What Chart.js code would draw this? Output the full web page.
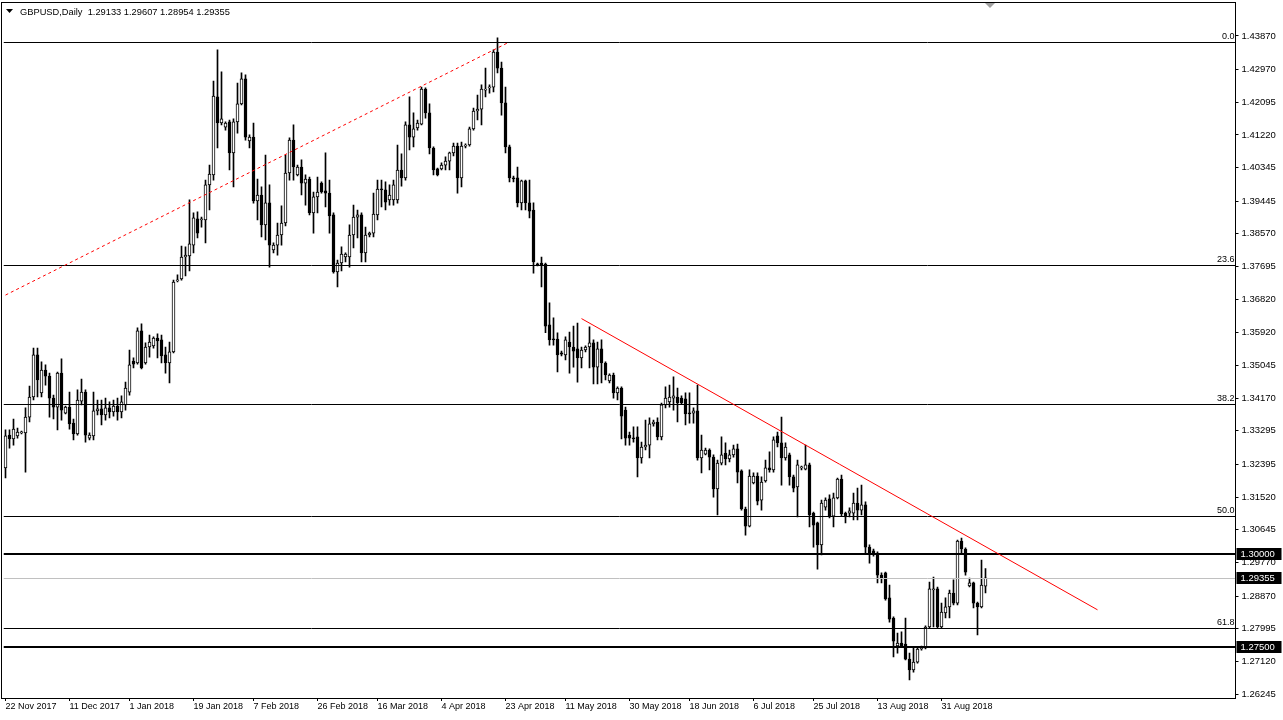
<!DOCTYPE html>
<html>
<head>
<meta charset="utf-8">
<title>GBPUSD,Daily</title>
<script src="https://cdn.jsdelivr.net/npm/chart.js@4.4.1/dist/chart.umd.min.js"></script>
<style>
  html, body { margin: 0; padding: 0; background: #fff; }
  canvas { display: block; }
</style>
</head>
<body>
<canvas id="gbpusdChart" width="1283" height="720"></canvas>
<script>
const symbol = 'GBPUSD';
const period = 'Daily';

// daily candles, oldest first
const opens = [
  1.3230,1.3318,1.3308,1.3316,1.3324,1.3324,1.3366,1.3420,1.3533,1.3431,
  1.3492,1.3476,1.3417,1.3393,1.3484,1.3377,1.3393,1.3350,1.3321,1.3409,
  1.3433,1.3310,1.3316,1.3383,1.3388,1.3372,1.3391,1.3380,1.3396,1.3380,
  1.3399,1.3433,1.3516,1.3511,1.3597,1.3511,1.3554,1.3557,1.3578,1.3573,
  1.3533,1.3511,1.3541,1.3731,1.3736,1.3795,1.3798,1.3827,1.3897,1.3894,
  1.3894,1.3988,1.4015,1.4224,1.4154,1.4143,1.4157,1.4074,1.4157,1.4205,
  1.4272,1.4106,1.4116,1.3945,1.3961,1.3881,1.3940,1.3814,1.3827,1.3854,
  1.3886,1.4020,1.4108,1.4015,1.4036,1.3993,1.4004,1.3913,1.3956,1.3993,
  1.3972,1.3966,1.3908,1.3755,1.3779,1.3795,1.3795,1.3854,1.3902,1.3908,
  1.3806,1.3854,1.3859,1.3908,1.3977,1.3975,1.3948,1.3948,1.3948,1.4028,
  1.4007,1.4149,1.4116,1.4141,1.4151,1.4245,1.4181,1.4087,1.4031,1.4031,
  1.4041,1.4052,1.4074,1.4092,1.4007,1.4092,1.4095,1.4138,1.4186,1.4191,
  1.4242,1.4248,1.4250,1.4344,1.4301,1.4208,1.4090,1.4007,1.4007,1.3940,
  1.3999,1.3940,1.3921,1.3776,1.3779,1.3776,1.3613,1.3575,1.3575,1.3538,
  1.3533,1.3567,1.3554,1.3549,1.3525,1.3546,1.3554,1.3565,1.3500,1.3549,
  1.3511,1.3463,1.3479,1.3431,1.3444,1.3385,1.3318,1.3310,1.3313,1.3257,
  1.3286,1.3291,1.3348,1.3353,1.3313,1.3399,1.3407,1.3417,1.3420,1.3417,
  1.3415,1.3377,1.3377,1.3383,1.3257,1.3267,1.3278,1.3259,1.3174,1.3243,
  1.3270,1.3254,1.3265,1.3281,1.3222,1.3120,1.3074,1.3190,1.3208,1.3144,
  1.3195,1.3230,1.3225,1.3316,1.3297,1.3257,1.3265,1.3206,1.3179,1.3230,
  1.3227,1.3238,1.3109,1.3083,1.3024,1.3125,1.3147,1.3101,1.3150,1.3200,
  1.3109,1.3109,1.3109,1.3136,1.3117,1.3131,1.3018,1.3008,1.3002,1.2943,
  1.2949,1.2882,1.2828,1.2753,1.2761,1.2758,1.2718,1.2689,1.2710,1.2745,
  1.2748,1.2804,1.2903,1.2906,1.2804,1.2842,1.2858,1.2895,1.2868,1.3034,
  1.3013,1.2914,1.2922,1.2868,1.2858,1.29133
];
const highs = [
  1.3332,1.3332,1.3361,1.3337,1.3329,1.3391,1.3449,1.3551,1.3551,1.3514,
  1.3506,1.3484,1.3425,1.3487,1.3522,1.3396,1.3433,1.3361,1.3439,1.3468,
  1.3439,1.3324,1.3433,1.3412,1.3412,1.3417,1.3407,1.3412,1.3417,1.3423,
  1.3460,1.3546,1.3525,1.3605,1.3616,1.3565,1.3586,1.3581,1.3589,1.3586,
  1.3554,1.3567,1.3733,1.3747,1.3824,1.3822,1.3948,1.3913,1.3916,1.3902,
  1.4001,1.4041,1.4266,1.4350,1.4291,1.4157,1.4162,1.4165,1.4261,1.4288,
  1.4283,1.4122,1.4154,1.4004,1.3983,1.4068,1.3988,1.3833,1.3886,1.3932,
  1.4068,1.4114,1.4149,1.4041,1.4055,1.4015,1.4009,1.3969,1.4009,1.3996,
  1.4074,1.4001,1.3913,1.3787,1.3822,1.3806,1.3881,1.3934,1.3921,1.3913,
  1.3875,1.3862,1.3966,1.4001,1.4001,1.3996,1.3988,1.4001,1.4095,1.4071,
  1.4157,1.4224,1.4181,1.4162,1.4250,1.4248,1.4205,1.4090,1.4033,1.4047,
  1.4063,1.4076,1.4100,1.4100,1.4103,1.4098,1.4143,1.4194,1.4229,1.4256,
  1.4301,1.4256,1.4350,1.4382,1.4317,1.4250,1.4095,1.4012,1.4036,1.4001,
  1.4001,1.4001,1.3940,1.3779,1.3795,1.3779,1.3672,1.3632,1.3592,1.3543,
  1.3581,1.3594,1.3610,1.3618,1.3554,1.3557,1.3608,1.3573,1.3567,1.3573,
  1.3514,1.3482,1.3484,1.3447,1.3447,1.3393,1.3326,1.3340,1.3340,1.3299,
  1.3358,1.3364,1.3358,1.3364,1.3404,1.3447,1.3452,1.3474,1.3444,1.3423,
  1.3431,1.3431,1.3391,1.3452,1.3318,1.3283,1.3281,1.3265,1.3251,1.3313,
  1.3297,1.3278,1.3291,1.3294,1.3225,1.3125,1.3225,1.3217,1.3217,1.3206,
  1.3251,1.3273,1.3313,1.3326,1.3366,1.3297,1.3270,1.3211,1.3251,1.3235,
  1.3291,1.3243,1.3112,1.3085,1.3144,1.3150,1.3158,1.3163,1.3203,1.3211,
  1.3112,1.3123,1.3163,1.3176,1.3184,1.3139,1.3024,1.3013,1.3005,1.2949,
  1.2951,1.2916,1.2831,1.2788,1.2791,1.2828,1.2734,1.2748,1.2750,1.2753,
  1.2807,1.2924,1.2938,1.2911,1.2868,1.2882,1.2903,1.2930,1.3037,1.3042,
  1.3016,1.2935,1.2924,1.2871,1.2983,1.29607
];
const lows = [
  1.3203,1.3283,1.3291,1.3310,1.3321,1.3219,1.3353,1.3412,1.3420,1.3420,
  1.3452,1.3366,1.3361,1.3332,1.3358,1.3375,1.3334,1.3305,1.3318,1.3399,
  1.3299,1.3305,1.3305,1.3372,1.3345,1.3358,1.3364,1.3369,1.3358,1.3364,
  1.3385,1.3425,1.3498,1.3508,1.3495,1.3508,1.3527,1.3551,1.3525,1.3511,
  1.3484,1.3458,1.3538,1.3728,1.3733,1.3744,1.3758,1.3806,1.3846,1.3875,
  1.3833,1.3921,1.4001,1.4087,1.4149,1.4135,1.4028,1.3983,1.4127,1.4202,
  1.4108,1.4087,1.3939,1.3894,1.3849,1.3841,1.3768,1.3806,1.3800,1.3827,
  1.3878,1.4001,1.4001,1.4012,1.3961,1.3934,1.3908,1.3859,1.3913,1.3966,
  1.3929,1.3859,1.3752,1.3715,1.3758,1.3782,1.3768,1.3819,1.3846,1.3782,
  1.3782,1.3849,1.3849,1.3894,1.3929,1.3921,1.3934,1.3934,1.3939,1.3985,
  1.4001,1.4082,1.4090,1.4135,1.4149,1.4167,1.4071,1.4015,1.4012,1.4028,
  1.4028,1.4028,1.4066,1.3966,1.3983,1.4087,1.4092,1.4135,1.4162,1.4149,
  1.4224,1.4234,1.4237,1.4288,1.4175,1.4074,1.3996,1.3996,1.3929,1.3921,
  1.3921,1.3900,1.3752,1.3771,1.3715,1.3592,1.3559,1.3559,1.3487,1.3530,
  1.3519,1.3484,1.3500,1.3460,1.3498,1.3541,1.3498,1.3455,1.3455,1.3458,
  1.3466,1.3458,1.3417,1.3412,1.3308,1.3291,1.3291,1.3299,1.3206,1.3243,
  1.3278,1.3257,1.3342,1.3305,1.3305,1.3391,1.3393,1.3385,1.3353,1.3401,
  1.3345,1.3350,1.3350,1.3251,1.3217,1.3265,1.3225,1.3152,1.3104,1.3238,
  1.3238,1.3246,1.3259,1.3190,1.3117,1.3050,1.3072,1.3187,1.3131,1.3117,
  1.3192,1.3219,1.3219,1.3286,1.3184,1.3251,1.3184,1.3166,1.3099,1.3225,
  1.3225,1.3072,1.3018,1.2959,1.2997,1.3117,1.3096,1.3072,1.3147,1.3101,
  1.3083,1.3099,1.3091,1.3091,1.3104,1.3002,1.2975,1.2994,1.2922,1.2922,
  1.2876,1.2817,1.2724,1.2734,1.2750,1.2716,1.2662,1.2683,1.2707,1.2742,
  1.2745,1.2801,1.2804,1.2801,1.2801,1.2828,1.2828,1.2863,1.2863,1.3002,
  1.2943,1.2911,1.2855,1.2783,1.2855,1.28954
];
const closes = [
  1.3316,1.3308,1.3334,1.3326,1.3326,1.3366,1.3420,1.3533,1.3466,1.3492,
  1.3476,1.3417,1.3393,1.3484,1.3385,1.3393,1.3348,1.3321,1.3412,1.3433,
  1.3318,1.3318,1.3383,1.3388,1.3372,1.3391,1.3380,1.3396,1.3380,1.3407,
  1.3444,1.3506,1.3508,1.3597,1.3498,1.3554,1.3567,1.3578,1.3570,1.3530,
  1.3511,1.3541,1.3728,1.3733,1.3795,1.3800,1.3830,1.3900,1.3859,1.3897,
  1.3988,1.4017,1.4226,1.4154,1.4165,1.4154,1.4074,1.4157,1.4205,1.4272,
  1.4116,1.4116,1.3945,1.3961,1.3881,1.3940,1.3827,1.3827,1.3854,1.3886,
  1.4020,1.4108,1.4036,1.4036,1.3993,1.4004,1.3913,1.3956,1.3969,1.3969,
  1.3966,1.3905,1.3755,1.3779,1.3803,1.3803,1.3854,1.3902,1.3908,1.3806,
  1.3854,1.3859,1.3910,1.3977,1.3975,1.3942,1.3961,1.3988,1.4028,1.4007,
  1.4149,1.4116,1.4138,1.4154,1.4245,1.4181,1.4087,1.4028,1.4015,1.4041,
  1.4052,1.4074,1.4092,1.4007,1.4092,1.4095,1.4138,1.4186,1.4191,1.4245,
  1.4245,1.4250,1.4344,1.4301,1.4208,1.4090,1.4007,1.4004,1.3940,1.3999,
  1.3940,1.3918,1.3782,1.3774,1.3774,1.3610,1.3573,1.3573,1.3533,1.3535,
  1.3573,1.3554,1.3543,1.3525,1.3546,1.3554,1.3565,1.3500,1.3549,1.3511,
  1.3479,1.3479,1.3431,1.3444,1.3369,1.3310,1.3310,1.3308,1.3257,1.3286,
  1.3291,1.3348,1.3353,1.3313,1.3399,1.3417,1.3420,1.3423,1.3404,1.3404,
  1.3375,1.3375,1.3383,1.3257,1.3278,1.3278,1.3259,1.3174,1.3243,1.3265,
  1.3254,1.3265,1.3281,1.3219,1.3120,1.3074,1.3208,1.3208,1.3141,1.3192,
  1.3230,1.3225,1.3305,1.3297,1.3257,1.3286,1.3206,1.3176,1.3238,1.3233,
  1.3238,1.3104,1.3077,1.3024,1.3136,1.3144,1.3101,1.3150,1.3200,1.3107,
  1.3099,1.3115,1.3136,1.3117,1.3131,1.3018,1.3002,1.3002,1.2943,1.2935,
  1.2879,1.2825,1.2766,1.2761,1.2753,1.2718,1.2689,1.2710,1.2745,1.2748,
  1.2804,1.2906,1.2906,1.2804,1.2844,1.2858,1.2895,1.2868,1.3034,1.3013,
  1.2951,1.2922,1.2868,1.2858,1.2916,1.29355
];

// axis labels
const dateTicks = ['22 Nov 2017', '11 Dec 2017', '1 Jan 2018', '19 Jan 2018', '7 Feb 2018',
  '26 Feb 2018', '16 Mar 2018', '4 Apr 2018', '23 Apr 2018', '11 May 2018', '30 May 2018',
  '18 Jun 2018', '6 Jul 2018', '25 Jul 2018', '13 Aug 2018', '31 Aug 2018'];
const yTicks = [1.43870, 1.42970, 1.42095, 1.41220, 1.40345, 1.39445, 1.38570, 1.37695,
  1.36820, 1.35920, 1.35045, 1.34170, 1.33295, 1.32395, 1.31520, 1.30645, 1.29770,
  1.28870, 1.27995, 1.27120, 1.26245];

// drawn objects
const fibNames = ['0.0', '23.6', '38.2', '50.0', '61.8'];
const fibValues = [1.4371, 1.3774, 1.3401, 1.3101, 1.2801];
const levelValues = [1.30000, 1.27500];
const dotTrend = [[0, 1.3693], [126, 1.4371]];
const solidTrend = [[144, 1.3630], [273, 1.2850]];

const slots = 308;          // bars that fit across the window (incl. right shift)
const labelEvery = 15.57;   // bars between time labels
const labels = Array.from({ length: slots }, (_, i) => i);
const tickIdx = dateTicks.map((_, j) => Math.round(j * labelEvery));

const bodies = opens.map((o, i) => [o, closes[i]]);
const wicks = lows.map((l, i) => [l, highs[i]]);
const bodyColors = opens.map((o, i) => (closes[i] > o ? '#ffffff' : '#000000'));

const uiFont = '"Liberation Sans", Arial, sans-serif';
const xFont = { family: uiFont, size: 9 };
const yFont = { family: uiFont, size: 9.5 };

const last = opens.length - 1;
const bid = closes[last];

const overlay = {
  id: 'overlay',
  afterDatasetsDraw(chart) {
    const { ctx, chartArea: a, scales: { x, y } } = chart;
    ctx.save();
    ctx.beginPath();
    ctx.rect(a.left, a.top, a.width, a.height);
    ctx.clip();

    // bid line
    ctx.strokeStyle = '#c0c0c0';
    ctx.lineWidth = 1;
    let py = Math.round(y.getPixelForValue(bid)) + 0.5;
    ctx.beginPath(); ctx.moveTo(a.left, py); ctx.lineTo(a.right, py); ctx.stroke();

    // fibo levels
    ctx.strokeStyle = '#000';
    ctx.fillStyle = '#000';
    ctx.font = '9px ' + uiFont;
    ctx.textAlign = 'right';
    ctx.textBaseline = 'bottom';
    fibValues.forEach((v, i) => {
      py = Math.round(y.getPixelForValue(v)) + 0.5;
      ctx.beginPath(); ctx.moveTo(a.left, py); ctx.lineTo(a.right, py); ctx.stroke();
      ctx.fillText(fibNames[i], a.right - 1, py - 1);
    });

    // round number levels
    ctx.lineWidth = 2;
    levelValues.forEach(v => {
      py = Math.round(y.getPixelForValue(v));
      ctx.beginPath(); ctx.moveTo(a.left, py); ctx.lineTo(a.right, py); ctx.stroke();
    });

    // trend lines
    ctx.strokeStyle = '#ff0000';
    ctx.lineWidth = 1;
    ctx.setLineDash([3, 3]);
    ctx.beginPath();
    ctx.moveTo(x.getPixelForValue(dotTrend[0][0]), y.getPixelForValue(dotTrend[0][1]));
    ctx.lineTo(x.getPixelForValue(dotTrend[1][0]), y.getPixelForValue(dotTrend[1][1]));
    ctx.stroke();
    ctx.setLineDash([]);
    ctx.beginPath();
    ctx.moveTo(x.getPixelForValue(solidTrend[0][0]), y.getPixelForValue(solidTrend[0][1]));
    ctx.lineTo(x.getPixelForValue(solidTrend[1][0]), y.getPixelForValue(solidTrend[1][1]));
    ctx.stroke();
    ctx.restore();
  },
  afterDraw(chart) {
    const { ctx, chartArea: a, scales: { y } } = chart;
    ctx.save();
    // frame
    ctx.strokeStyle = '#000';
    ctx.lineWidth = 1;
    ctx.strokeRect(1.5, a.top + 0.5, a.right - 1.5, a.bottom - a.top);

    // price boxes on the axis
    ctx.font = '9.5px ' + uiFont;
    ctx.textAlign = 'left';
    ctx.textBaseline = 'middle';
    levelValues.concat([bid]).forEach(v => {
      const py = Math.round(y.getPixelForValue(v));
      ctx.fillStyle = '#000';
      ctx.fillRect(a.right + 1, py - 6, 45, 12);
      ctx.fillStyle = '#fff';
      ctx.fillText(v.toFixed(5), a.right + 5, py);
    });

    // header
    ctx.fillStyle = '#000';
    ctx.beginPath();
    ctx.moveTo(6, 9); ctx.lineTo(13, 9); ctx.lineTo(9.5, 13); ctx.closePath(); ctx.fill();
    ctx.font = '9.3px ' + uiFont;
    const ohlc = [opens[last], highs[last], lows[last], closes[last]].map(v => v.toFixed(5)).join(' ');
    ctx.fillText(symbol + ',' + period + '  ' + ohlc, 20, 12);

    // chart shift marker
    ctx.fillStyle = '#a0a0a0';
    ctx.beginPath();
    ctx.moveTo(985, a.top + 1); ctx.lineTo(995, a.top + 1); ctx.lineTo(990, a.top + 6); ctx.closePath(); ctx.fill();
    ctx.restore();
  }
};

new Chart(document.getElementById('gbpusdChart'), {
  type: 'bar',
  data: {
    labels: labels,
    datasets: [
      {
        label: 'body',
        data: bodies,
        backgroundColor: bodyColors,
        borderColor: '#000',
        borderWidth: 1,
        borderSkipped: false,
        barThickness: 3,
        minBarLength: 1,
        grouped: false,
        order: 1,
      },
      {
        label: 'wick',
        data: wicks,
        backgroundColor: '#000',
        borderWidth: 0,
        barThickness: 1,
        grouped: false,
        order: 2,
      },
    ],
  },
  options: {
    responsive: false,
    animation: false,
    devicePixelRatio: 1,
    layout: { padding: { left: 3.5, top: 2, right: 0, bottom: 0 } },
    plugins: {
      legend: { display: false },
      tooltip: { enabled: false },
    },
    scales: {
      x: {
        type: 'category',
        offset: true,
        grid: { display: true, offset: false, drawOnChartArea: false, drawTicks: true, tickLength: 3, color: '#000' },
        border: { display: false },
        ticks: {
          autoSkip: false,
          maxRotation: 0,
          align: 'start',
          padding: 0,
          color: '#000',
          font: xFont,
          callback: (v) => dateTicks[tickIdx.indexOf(v)],
        },
        afterBuildTicks: (s) => { s.ticks = tickIdx.map(v => ({ value: v })); },
        afterFit: (s) => { s.height = 22; s.paddingLeft = 0; s.paddingRight = 0; },
      },
      y: {
        type: 'linear',
        position: 'right',
        min: 1.26138,
        max: 1.44780,
        grid: { display: true, drawOnChartArea: false, drawTicks: true, tickLength: 3, color: '#000' },
        border: { display: false },
        ticks: {
          color: '#000',
          font: yFont,
          padding: 3,
          callback: (v) => v.toFixed(5),
        },
        afterBuildTicks: (s) => { s.ticks = yTicks.map(v => ({ value: v })); },
        afterFit: (s) => { s.width = 47.5; s.paddingTop = 0; s.paddingBottom = 0; },
      },
    },
  },
  plugins: [overlay],
});
</script>
</body>
</html>
